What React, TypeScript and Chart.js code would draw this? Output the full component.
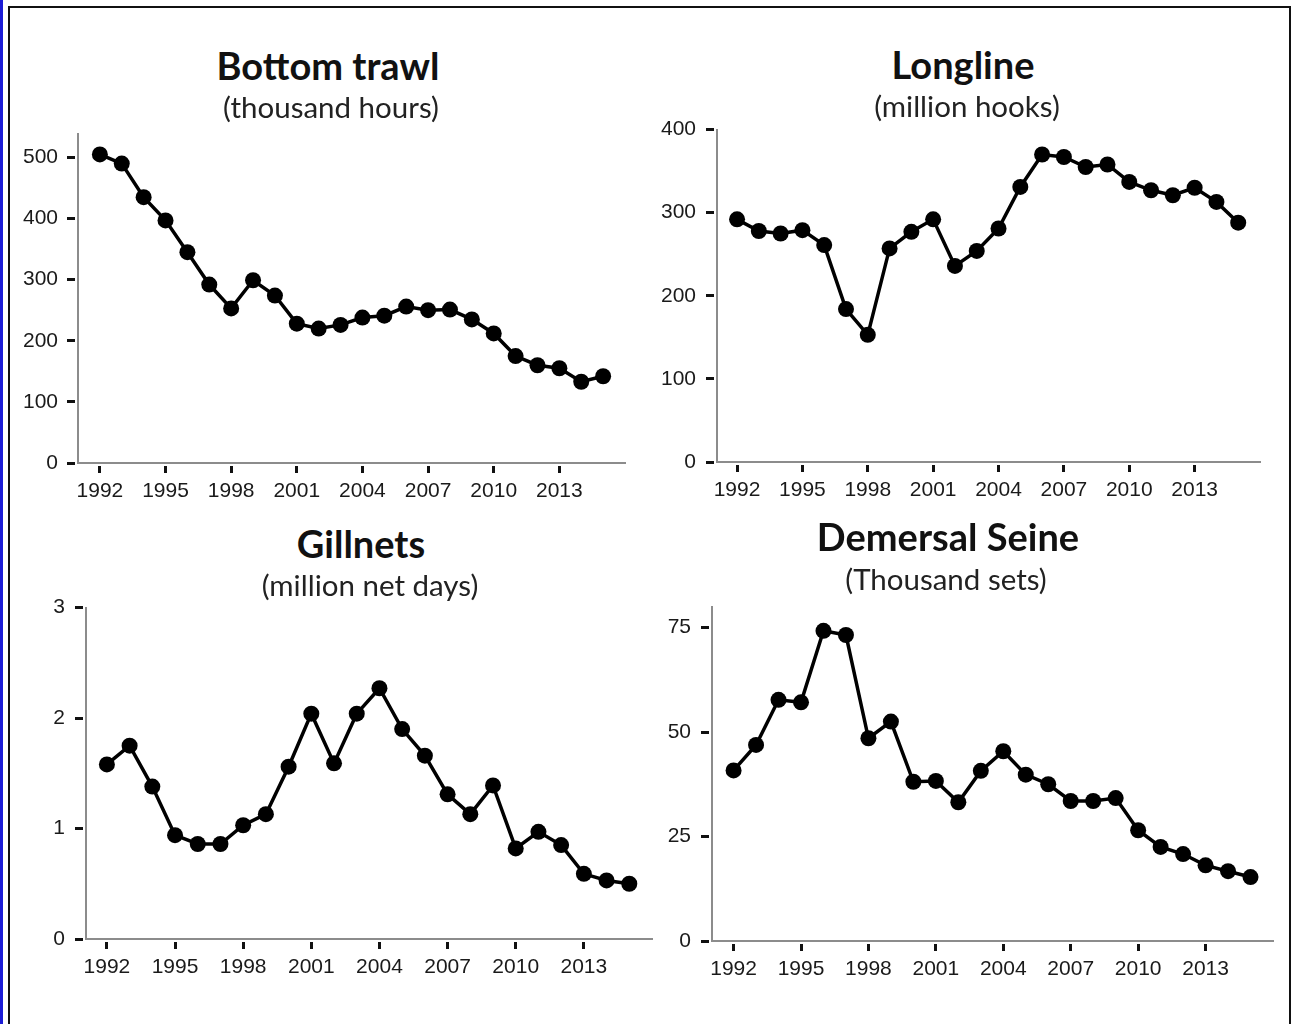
import React, { useEffect, useRef } from "react";
import { Chart, registerables } from "chart.js";

Chart.register(...registerables);

// ---------- data ----------
const YEARS = [
  1992, 1993, 1994, 1995, 1996, 1997, 1998, 1999, 2000, 2001, 2002, 2003,
  2004, 2005, 2006, 2007, 2008, 2009, 2010, 2011, 2012, 2013, 2014, 2015,
];
const X_TICKS = [1992, 1995, 1998, 2001, 2004, 2007, 2010, 2013];

const BOTTOM_TRAWL = [
  505, 490, 435, 397, 345, 292, 253, 299, 274, 228, 220, 226,
  238, 241, 256, 250, 251, 235, 212, 175, 160, 155, 133, 142,
];
const LONGLINE = [
  292, 278, 275, 279, 261, 184, 153, 257, 277, 292, 236, 254,
  281, 331, 370, 367, 355, 358, 337, 327, 321, 330, 313, 288,
];
const GILLNETS = [
  1.58, 1.75, 1.38, 0.94, 0.86, 0.86, 1.03, 1.13, 1.56, 2.04, 1.59, 2.04,
  2.27, 1.9, 1.66, 1.31, 1.13, 1.39, 0.82, 0.97, 0.85, 0.59, 0.53, 0.5,
];
const DEMERSAL_SEINE = [
  40.8, 46.9, 57.7, 57.1, 74.2, 73.2, 48.5, 52.5, 38.1, 38.3, 33.2, 40.7,
  45.4, 39.8, 37.5, 33.5, 33.5, 34.2, 26.5, 22.5, 20.8, 18.1, 16.7, 15.3,
];

const BT_Y_TICKS = [0, 100, 200, 300, 400, 500];
const LL_Y_TICKS = [0, 100, 200, 300, 400];
const GN_Y_TICKS = [0, 1, 2, 3];
const DS_Y_TICKS = [0, 25, 50, 75];

const TITLES = ["Bottom trawl", "Longline", "Gillnets", "Demersal Seine"];
const SUBTITLES = [
  "(thousand hours)",
  "(million hooks)",
  "(million net days)",
  "(Thousand sets)",
];

// ---------- layout ----------
type PanelSpec = {
  values: number[];
  yTicks: number[];
  yMax: number;
  xMin: number;
  xMax: number;
  area: { left: number; right: number; top: number; bottom: number };
  title: string;
  subtitle: string;
  titlePos: { x: number; y: number };
  subPos: { x: number; y: number };
  yPad: number;
};

const PANELS: PanelSpec[] = [
  {
    values: BOTTOM_TRAWL,
    yTicks: BT_Y_TICKS,
    yMax: 539,
    xMin: 1991.0,
    xMax: 2016,
    area: { left: 78, right: 625, top: 130, bottom: 463 },
    title: TITLES[0],
    subtitle: SUBTITLES[0],
    titlePos: { x: 328, y: 65 },
    subPos: { x: 331, y: 107 },
    yPad: 9,
  },
  {
    values: LONGLINE,
    yTicks: LL_Y_TICKS,
    yMax: 400,
    xMin: 1991.08,
    xMax: 2016,
    area: { left: 717, right: 1260, top: 125, bottom: 462 },
    title: TITLES[1],
    subtitle: SUBTITLES[1],
    titlePos: { x: 963, y: 64 },
    subPos: { x: 967, y: 106 },
    yPad: 10,
  },
  {
    values: GILLNETS,
    yTicks: GN_Y_TICKS,
    yMax: 3,
    xMin: 1991.08,
    xMax: 2016,
    area: { left: 86, right: 652, top: 603, bottom: 939 },
    title: TITLES[2],
    subtitle: SUBTITLES[2],
    titlePos: { x: 361, y: 543 },
    subPos: { x: 370, y: 585 },
    yPad: 10,
  },
  {
    values: DEMERSAL_SEINE,
    yTicks: DS_Y_TICKS,
    yMax: 80,
    xMin: 1991.04,
    xMax: 2016,
    area: { left: 712, right: 1273, top: 602, bottom: 941 },
    title: TITLES[3],
    subtitle: SUBTITLES[3],
    titlePos: { x: 948, y: 536 },
    subPos: { x: 946, y: 579 },
    yPad: 10,
  },
];

const Y_AXIS_W = 76;
const X_AXIS_H = 50;
const PAD_TOP = 18;
const PAD_RIGHT = 12;

function Panel({ spec }: { spec: PanelSpec }) {
  const ref = useRef<HTMLCanvasElement | null>(null);
  const { area } = spec;
  const width = Y_AXIS_W + (area.right - area.left) + PAD_RIGHT;
  const height = PAD_TOP + (area.bottom - area.top) + X_AXIS_H;

  useEffect(() => {
    if (!ref.current) return;
    const points = YEARS.map((y, i) => ({ x: y, y: spec.values[i] }));
    const tickFont = { family: "'Liberation Sans', Arial, sans-serif", size: 21 };
    const chart = new Chart(ref.current, {
      type: "line",
      data: {
        datasets: [
          {
            data: points,
            borderColor: "#000",
            backgroundColor: "#000",
            borderWidth: 3.5,
            pointRadius: 8,
            pointHoverRadius: 8,
            pointBackgroundColor: "#000",
            pointBorderColor: "#000",
            pointBorderWidth: 0,
            tension: 0,
            clip: false as any,
          },
        ],
      },
      options: {
        animation: false,
        responsive: false,
        maintainAspectRatio: false,
        events: [],
        layout: { padding: { top: PAD_TOP, right: PAD_RIGHT, left: 0, bottom: 0 } },
        plugins: { legend: { display: false }, tooltip: { enabled: false } },
        scales: {
          x: {
            type: "linear",
            position: "bottom",
            min: spec.xMin,
            max: spec.xMax,
            afterBuildTicks: (scale: any) => {
              scale.ticks = X_TICKS.map((v) => ({ value: v }));
            },
            afterFit: (scale: any) => {
              scale.height = X_AXIS_H;
            },
            border: { display: true, color: "#8c8c8c", width: 2 },
            grid: {
              drawOnChartArea: false,
              drawTicks: true,
              tickLength: 10,
              tickWidth: 3,
              tickColor: "#111",
              tickBorderDash: [0, 2, 8, 100],
            },
            ticks: {
              autoSkip: false,
              maxRotation: 0,
              padding: 6,
              color: "#1a1a1a",
              font: tickFont,
              callback: (v: any) => String(v),
            },
          },
          y: {
            type: "linear",
            min: 0,
            max: spec.yMax,
            afterBuildTicks: (scale: any) => {
              scale.ticks = spec.yTicks.map((v) => ({ value: v }));
            },
            afterFit: (scale: any) => {
              scale.width = Y_AXIS_W;
            },
            border: { display: true, color: "#8c8c8c", width: 2 },
            grid: {
              drawOnChartArea: false,
              drawTicks: true,
              tickLength: 11,
              tickWidth: 3,
              tickColor: "#111",
              tickBorderDash: [8, 100],
            },
            ticks: {
              padding: spec.yPad,
              color: "#1a1a1a",
              font: tickFont,
              callback: (v: any) => String(v),
            },
          },
        },
      } as any,
    });
    return () => chart.destroy();
  }, [spec]);

  return (
    <>
      <canvas
        ref={ref}
        width={width}
        height={height}
        style={{
          position: "absolute",
          left: area.left - Y_AXIS_W,
          top: area.top - PAD_TOP,
          width,
          height,
        }}
      />
      <div
        style={{
          position: "absolute",
          left: spec.titlePos.x - 250,
          width: 500,
          top: spec.titlePos.y - 25,
          height: 50,
          lineHeight: "50px",
          textAlign: "center",
          fontFamily: "Lato, 'Open Sans', sans-serif",
          fontWeight: 700,
          fontSize: 38,
          color: "#111",
          whiteSpace: "nowrap",
        }}
      >
        {spec.title}
      </div>
      <div
        style={{
          position: "absolute",
          left: spec.subPos.x - 250,
          width: 500,
          top: spec.subPos.y - 20,
          height: 40,
          lineHeight: "40px",
          textAlign: "center",
          fontFamily: "Lato, 'Open Sans', sans-serif",
          fontWeight: 400,
          fontSize: 29.5,
          color: "#222",
          whiteSpace: "nowrap",
        }}
      >
        {spec.subtitle}
      </div>
    </>
  );
}

export default function App() {
  return (
    <div
      style={{
        position: "absolute",
        left: 0,
        top: 0,
        width: 1295,
        height: 1024,
        overflow: "hidden",
        background: "#fff",
      }}
    >
      <div
        style={{
          position: "absolute",
          left: 0,
          top: 0,
          width: 3,
          height: 1024,
          background: "#1c1cd6",
        }}
      />
      <div
        style={{
          position: "absolute",
          left: 8,
          top: 6,
          width: 1283,
          height: 1100,
          border: "2px solid #111",
          boxSizing: "border-box",
        }}
      />
      {PANELS.map((p, i) => (
        <Panel key={i} spec={p} />
      ))}
    </div>
  );
}
